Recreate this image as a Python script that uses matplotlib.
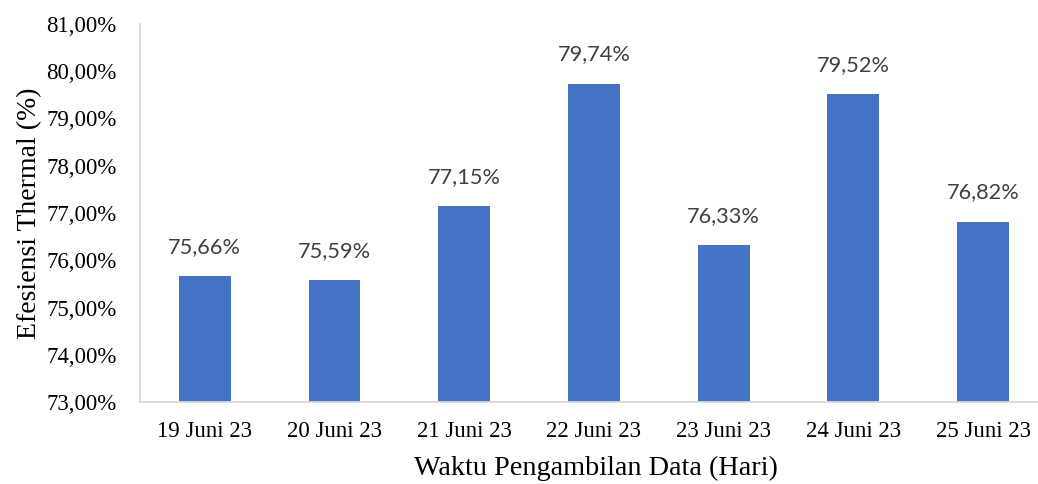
import matplotlib
matplotlib.use("Agg")
import matplotlib.pyplot as plt
from matplotlib.ticker import FuncFormatter

categories = ["19 Juni 23", "20 Juni 23", "21 Juni 23", "22 Juni 23",
              "23 Juni 23", "24 Juni 23", "25 Juni 23"]
values = [75.66, 75.59, 77.15, 79.74, 76.33, 79.52, 76.82]
y_ticks = [73, 74, 75, 76, 77, 78, 79, 80, 81]

W, H = 1038, 484
fig = plt.figure(figsize=(W / 100, H / 100), dpi=100)
left, right, bottom, top = 140, 1038, 402, 24
ax = fig.add_axes([left / W, 1 - bottom / H, (right - left) / W, (bottom - top) / H])

x = list(range(len(categories)))
bars = ax.bar(x, [v - 73 for v in values], bottom=73, width=0.4, color="#4472C4")
ax.set_xlim(-0.5, -0.5 + (right - left) / 129.7)
ax.set_ylim(73, 81)
ax.set_yticks(y_ticks)
ax.yaxis.set_major_formatter(FuncFormatter(lambda v, p: f"{v:.2f}%".replace(".", ",")))
ax.set_xticks(x)
ax.set_xticklabels(categories)

serif = "Liberation Serif"
for lab in ax.get_xticklabels() + ax.get_yticklabels():
    lab.set_fontfamily(serif)
    lab.set_fontsize(16.5)
ax.tick_params(length=0)
ax.tick_params(axis="x", pad=14)
ax.tick_params(axis="y", pad=17)

for s in ["top", "right"]:
    ax.spines[s].set_visible(False)
for s in ["left", "bottom"]:
    ax.spines[s].set_color("#d9d9d9")
    ax.spines[s].set_linewidth(1.3)

for xi, v in zip(x, values):
    ax.annotate(f"{v:.2f}%".replace(".", ","), (xi, v), xytext=(0, 19),
                textcoords="offset pixels", ha="center", va="bottom",
                fontsize=15.7, fontfamily="Lato", color="#404040")

ax.set_ylabel("Efesiensi Thermal (%)", fontfamily=serif, fontsize=20)
ax.set_xlabel("Waktu Pengambilan Data (Hari)", fontfamily=serif, fontsize=20.3)
ax.yaxis.set_label_coords(-110 / (right - left), 0.5)
ax.xaxis.set_label_coords((596 - left) / (right - left), -(468 - bottom) / (bottom - top))
ax.xaxis.label.set_va("center")
ax.yaxis.label.set_va("center")

fig.savefig("out.png", dpi=100)
